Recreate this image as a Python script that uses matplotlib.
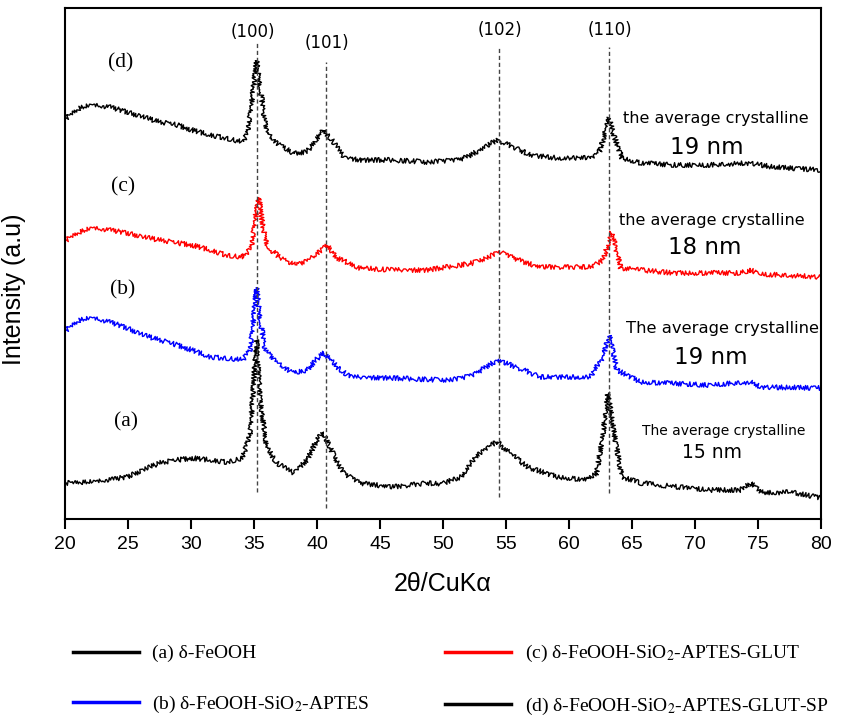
import numpy as np
import matplotlib
matplotlib.use("Agg")
import matplotlib.pyplot as plt

plt.rcParams['mathtext.fontset'] = 'stix'

# XRD patterns, stacked (intensity in arbitrary units incl. offset)
tt_a = [20.1, 22.2, 24.9, 26.2, 27.5, 28.9, 30.1, 31.5, 32.8, 34.1, 34.7, 35.0, 35.2, 35.5,
        36.0, 36.8, 38.1, 39.2, 40.0, 40.5, 41.0, 42.1, 43.4, 46.0, 48.7, 49.8, 51.4, 52.4,
        53.5, 54.3, 55.3, 56.7, 59.1, 61.5, 62.2, 62.7, 63.1, 63.5, 64.2, 65.7, 71.0, 73.6,
        74.4, 75.4, 77.6, 80.0]
int_a = [36, 37, 42, 49, 56, 59, 61, 59, 57, 61, 86, 142, 179, 119,
         72, 56, 46, 59, 79, 87, 72, 46, 36, 32, 36, 35, 42, 59,
         72, 77, 66, 52, 42, 39, 46, 86, 127, 92, 42, 36, 29, 29,
         36, 26, 27, 21]

tt_b = [20.1, 21.2, 22.2, 23.6, 24.9, 26.2, 27.5, 28.9, 30.1, 31.5, 32.8, 34.1, 34.7, 35.0,
        35.2, 35.5, 35.9, 36.8, 38.1, 39.2, 40.5, 41.6, 42.6, 46.0, 49.8, 51.1, 52.4, 54.3,
        56.4, 57.7, 61.7, 62.7, 63.2, 63.8, 65.7, 71.0, 74.4, 75.2, 80.0]
int_b = [189, 199, 201, 197, 191, 184, 179, 174, 169, 162, 161, 159, 169, 206,
         231, 199, 169, 156, 146, 149, 167, 152, 142, 141, 139, 140, 144, 159,
         149, 142, 142, 162, 184, 149, 137, 134, 137, 132, 131]

tt_c = [20.1, 21.2, 22.2, 23.6, 24.9, 26.2, 27.5, 28.9, 30.1, 31.5, 32.8, 34.1, 34.8, 35.1,
        35.4, 35.7, 36.1, 37.1, 38.4, 39.4, 40.8, 41.6, 43.4, 46.0, 48.7, 49.8, 52.4, 54.5,
        56.4, 57.7, 61.7, 62.7, 63.4, 64.1, 68.3, 73.6, 74.4, 75.2, 80.0]
int_c = [279, 287, 291, 289, 286, 282, 279, 276, 274, 269, 264, 262, 271, 302,
         321, 292, 272, 261, 254, 259, 274, 261, 251, 249, 249, 251, 256, 267,
         257, 252, 252, 259, 287, 251, 246, 246, 249, 245, 242]

tt_d = [20.1, 21.2, 22.2, 23.6, 24.9, 26.2, 27.5, 28.9, 30.1, 31.5, 32.8, 34.1, 34.5, 34.9,
        35.2, 35.6, 36.0, 36.8, 38.1, 39.2, 40.0, 40.5, 41.3, 42.1, 43.4, 46.0, 48.7, 51.1,
        51.9, 53.2, 54.3, 55.6, 56.9, 59.1, 61.7, 62.5, 62.9, 63.2, 63.5, 64.2, 65.7, 68.3,
        71.0, 74.4, 76.2, 80.0]
int_d = [401, 411, 414, 412, 407, 402, 397, 394, 389, 384, 381, 377, 386, 426,
         458, 422, 386, 376, 366, 367, 381, 389, 377, 362, 359, 359, 357, 359,
         362, 371, 379, 372, 364, 361, 361, 369, 389, 401, 386, 361, 356, 354,
         354, 356, 352, 349]

peak_pos = [35.25, 40.68, 54.45, 63.2]
peak_hkl = ['(100)', '(101)', '(102)', '(110)']
peak_top = [476, 457, 471, 472]
peak_bot = [27, 11, 22, 26]

sizes = ['15 nm', '19 nm', '18 nm', '19 nm']
legend_labels = [r'(a) δ-FeOOH',
                 r'(b) δ-FeOOH-SiO$_2$-APTES',
                 r'(c) δ-FeOOH-SiO$_2$-APTES-GLUT',
                 r'(d) δ-FeOOH-SiO$_2$-APTES-GLUT-SP']

fig = plt.figure(figsize=(8.45, 7.18), dpi=100)
ax = fig.add_axes([65/845, 1-519/718, (821-65)/845, (519-8)/718])

curves = [(tt_a, int_a, 'black'), (tt_b, int_b, 'blue'),
          (tt_c, int_c, 'red'), (tt_d, int_d, 'black')]
handles = []
for (x, y, col), lab in zip(curves, legend_labels):
    ln, = ax.plot(x, y, color=col, lw=1.0)
    ln.set_sketch_params(scale=2.4, length=0.4, randomness=2)  # noisy look of raw scans
    h, = ax.plot([], [], color=col, lw=2.5, label=lab)
    handles.append(h)

for p, top, bot, hkl in zip(peak_pos, peak_top, peak_bot, peak_hkl):
    ax.plot([p, p], [bot, top], ls=(0, (3, 2)), color='#444444', lw=1.0)

ax.text(34.93, 487, '(100)', ha='center', va='center', fontsize=12)
ax.text(40.79, 476, '(101)', ha='center', va='center', fontsize=12)
ax.text(54.54, 489, '(102)', ha='center', va='center', fontsize=12)
ax.text(63.27, 489, '(110)', ha='center', va='center', fontsize=12)

serif = 'Liberation Serif'
ax.text(24.4, 456, '(d)', ha='center', va='center', fontsize=15.5, family=serif)
ax.text(24.58, 332, '(c)', ha='center', va='center', fontsize=15.5, family=serif)
ax.text(24.58, 229, '(b)', ha='center', va='center', fontsize=15.5, family=serif)
ax.text(24.82, 97, '(a)', ha='center', va='center', fontsize=15.5, family=serif)

ax.text(71.66, 401, 'the average crystalline', ha='center', va='center', fontsize=11.5)
ax.text(70.97, 372, sizes[3], ha='center', va='center', fontsize=16.5)
ax.text(71.37, 299, 'the average crystalline', ha='center', va='center', fontsize=11.5)
ax.text(70.81, 271, sizes[2], ha='center', va='center', fontsize=16.5)
ax.text(72.22, 191, 'The average crystalline', ha='center', va='center', fontsize=11.8)
ax.text(71.29, 162, sizes[1], ha='center', va='center', fontsize=16.5)
ax.text(72.24, 88, 'The average crystalline', ha='center', va='center', fontsize=10)
ax.text(71.37, 66, sizes[0], ha='center', va='center', fontsize=13.5)

ax.set_xlim(20, 80)
ax.set_ylim(0, 511)
ax.set_xticks(np.arange(20, 81, 5))
ax.set_yticks([])
ax.tick_params(axis='x', direction='out', length=7, width=1.5, pad=5, labelsize=14)
for lab in ax.get_xticklabels():
    lab.set_family('Liberation Sans')
for s in ax.spines.values():
    s.set_linewidth(1.5)

ax.set_xlabel('2θ/CuKα', fontsize=18, family='Liberation Sans', labelpad=14)
ax.set_ylabel('Intensity (a.u)', fontsize=18, family='Liberation Sans')
ax.yaxis.set_label_coords(-0.052, 0.45)

fig.legend(handles=handles, ncol=2, frameon=False, loc='center left',
           bbox_to_anchor=(55/845, 1-680/718),
           prop={'family': serif, 'size': 14}, handlelength=3.4,
           handletextpad=0.7, columnspacing=3.9, labelspacing=1.6)

fig.savefig('out.png', dpi=100)
